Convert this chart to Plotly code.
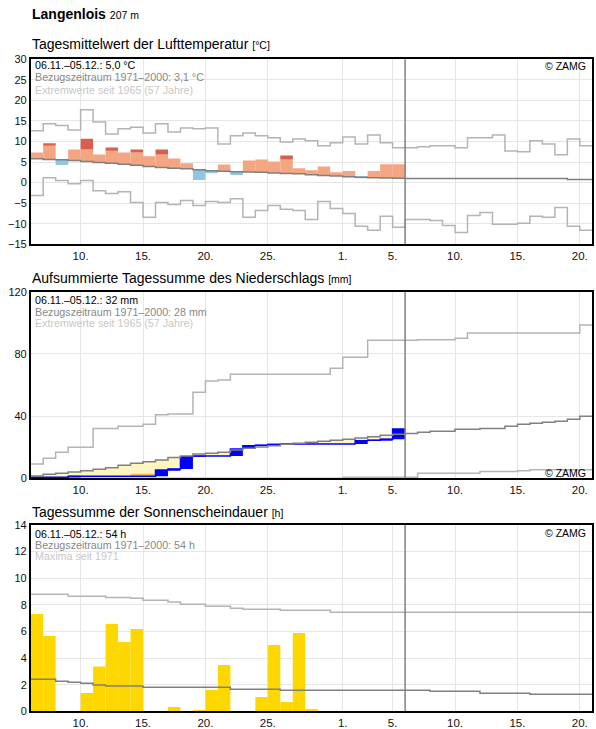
import plotly.graph_objects as go

W, H = 596, 729

# ---------------- data ----------------
# x axis: day number counted from 1 Nov (Dec d -> 30 + d); each day spans [d, d+1)
first_day = 6            # 6 Nov
n_days = 45              # 6 Nov .. 20 Dec
n_obs = 30               # 6 Nov .. 5 Dec observed
today = 36               # 6 Dec
x_tickvals = [10, 15, 20, 25, 31, 35, 40, 45, 50]
x_ticktext = ["10.", "15.", "20.", "25.", "1.", "5.", "10.", "15.", "20."]

# Temperature (°C)
temp_clim = [5.8, 5.6, 5.55, 5.4, 5.15, 4.9, 4.7, 4.45, 4.2, 3.95,
             3.7, 3.5, 3.4, 3.15, 2.9, 2.75, 2.65, 2.6, 2.5, 2.35,
             2.25, 2.15, 1.9, 1.75, 1.6, 1.45, 1.3, 1.2, 1.1, 1.05,
             1.0, 1.0, 1.0, 1.0, 1.0, 1.0, 1.0, 1.0, 1.0, 1.0,
             1.0, 1.0, 1.0, 0.75, 0.75]
temp_max = [12.65, 14.3, 13.9, 12.8, 17.7, 14.75, 11.85, 13.1, 13.5, 12.1,
            14.3, 12.3, 13.3, 13.1, 13.3, 9.4, 11.4, 12.1, 11.4, 10.9,
            9.9, 10.6, 10.2, 8.95, 9.7, 11.1, 9.4, 11.6, 9.7, 8.5,
            8.5, 8.7, 8.95, 8.95, 8.5, 10.9, 10.9, 11.6, 7.7, 7.5,
            10.2, 9.4, 6.8, 10.6, 8.95]
temp_min = [-3.15, 1.2, 0.5, -0.25, 0.5, -1.95, -2.65, -2.2, -4.85, -8.45,
            -4.85, -5.3, -4.35, -5.55, -4.6, -4.85, -3.9, -8.45, -6.8, -5.55,
            -6.5, -6.8, -8.95, -4.6, -6.3, -7.5, -10.6, -11.6, -8.2, -10.85,
            -8.95, -8.95, -9.2, -10.4, -12.1, -8.0, -7.25, -10.15, -10.15, -9.9,
            -8.2, -8.45, -6.05, -10.6, -11.6]
temp_obs = [7.3, 9.0, 4.3, 8.05, 8.05, 6.85, 7.75, 7.3, 7.3, 6.4,
            6.85, 5.9, 4.7, 0.65, 2.3, 4.4, 1.85, 5.4, 5.6, 5.15,
            5.6, 3.5, 3.0, 3.95, 2.5, 2.8, 1.2, 2.8, 4.5, 4.5]
temp_peak = [None, 9.6, None, None, 10.7, None, 8.55, None, 8.05, None,
             8.05, None, None, None, None, None, None, None, None, None,
             6.6, None, None, None, None, None, None, None, None, None]

# Precipitation (mm)
precip_daily = [0.6, 0.0, 0.0, 0.7, 0.0, 0.0, 0.0, 0.0, 0.0, 0.0,
                4.1, 0.6, 7.9, 0.4, 0.0, 0.0, 4.5, 2.2, 0.2, 0.5,
                0.3, 0.0, 0.0, 0.0, 0.0, 0.0, 2.2, 0.2, 0.7, 6.6]
precip_clim_cum = [1.5, 2.55, 3.2, 4.05, 4.9, 5.8, 6.8, 8.4, 9.6, 10.7,
                   11.8, 13.3, 14.3, 15.6, 16.1, 16.7, 18.2, 19.3, 20.1, 21.0,
                   21.9, 22.5, 23.2, 23.8, 24.4, 25.1, 25.9, 26.8, 27.7, 28.3,
                   28.8, 29.6, 30.2, 30.2, 31.5, 31.5, 32.1, 32.1, 33.4, 34.7,
                   35.4, 36.0, 36.7, 37.9, 39.9]
precip_max_cum = [9.2, 12.9, 16.7, 19.9, 19.9, 32.1, 32.1, 33.4, 33.4, 34.7,
                  40.9, 41.4, 41.4, 55.3, 62.6, 63.2, 66.9, 66.9, 66.9, 66.9,
                  66.9, 66.9, 66.9, 66.9, 70.7, 77.8, 77.8, 88.7, 88.7, 88.7,
                  88.7, 89.1, 89.1, 89.1, 90.0, 93.4, 93.4, 93.4, 93.4, 93.4,
                  93.4, 93.4, 93.4, 93.4, 98.6]
precip_min_cum = [0.0] * 25 + [0.6, 0.6, 0.6, 0.6, 0.6, 0.6,
                               3.2, 3.2, 3.2, 3.2, 3.2, 4.3, 4.3, 4.3, 4.9,
                               5.5, 5.5, 5.5, 5.5, 5.5]
precip_orange_days = [14, 15]
precip_orange_lo = [1.6, 1.6]
precip_orange_hi = [3.0, 3.0]

# Sunshine duration (h)
sun_obs = [7.31, 5.66, 0, 0, 1.38, 3.36, 6.56, 5.21, 6.19, 0,
           0, 0.33, 0, 0.1, 1.6, 3.48, 0, 0, 1.08, 4.98,
           0.7, 5.89, 0.18, 0, 0, 0, 0, 0, 0, 0]
sun_clim = [2.40, 2.40, 2.25, 2.18, 2.10, 1.98, 1.90, 1.90, 1.90, 1.80,
            1.80, 1.80, 1.80, 1.80, 1.80, 1.80, 1.65, 1.65, 1.65, 1.65,
            1.58, 1.58, 1.58, 1.58, 1.58, 1.58, 1.58, 1.58, 1.58, 1.58,
            1.58, 1.58, 1.50, 1.50, 1.50, 1.50, 1.35, 1.35, 1.35, 1.35,
            1.28, 1.28, 1.28, 1.28, 1.28]
sun_max = [8.79, 8.79, 8.79, 8.64, 8.64, 8.64, 8.56, 8.56, 8.49, 8.34,
           8.34, 8.21, 8.04, 8.04, 7.89, 7.89, 7.74, 7.66, 7.66, 7.66,
           7.59, 7.59, 7.59, 7.59] + [7.44] * 21

# ---------------- styling ----------------
FONT = "Liberation Sans, Arial, Helvetica, sans-serif"
C_SALMON = "#F4A582"
C_DARKRED = "#D6604D"
C_LBLUE = "#92C5DE"
C_CLIM = "#808080"
C_EXT = "#b4b4b4"
C_YELLOW = "#FFF5BF"
C_ORANGE = "#F7B64E"
C_BLUE = "#0000FF"
C_GOLD = "#FFD700"
GRID = "#e6e6e6"

all_x = list(range(first_day, first_day + n_days))
obs_x = all_x[:n_obs]
mid = lambda xs: [x + 0.5 for x in xs]


def step(vals, start=first_day):
    xs = list(range(start, start + len(vals) + 1))
    return xs, list(vals) + [vals[-1]]


fig = go.Figure()


def add_bar(xs, base, height, color, ax):
    fig.add_trace(go.Bar(x=mid(xs), y=height, base=base, width=1.0,
                         marker=dict(color=color, line=dict(width=0)),
                         xaxis="x" + ax, yaxis="y" + ax, hoverinfo="skip"))


def add_step(vals, color, width, ax, start=first_day):
    xs, ys = step(vals, start)
    fig.add_trace(go.Scatter(x=xs, y=ys, mode="lines", line_shape="hv",
                             line=dict(color=color, width=width),
                             xaxis="x" + ax, yaxis="y" + ax, hoverinfo="skip"))


# ----- panel 1: temperature -----
clim_o = temp_clim[:n_obs]
warm_h = [o - c if o > c else None for o, c in zip(temp_obs, clim_o)]
cold_b = [o if o < c else None for o, c in zip(temp_obs, clim_o)]
cold_h = [c - o if o < c else None for o, c in zip(temp_obs, clim_o)]
peak_h = [p - o if p is not None else None for p, o in zip(temp_peak, temp_obs)]
add_bar(obs_x, clim_o, warm_h, C_SALMON, "")
add_bar(obs_x, temp_obs, peak_h, C_DARKRED, "")
add_bar(obs_x, cold_b, cold_h, C_LBLUE, "")
add_step(temp_max, C_EXT, 1.5, "")
add_step(temp_min, C_EXT, 1.5, "")
add_step(temp_clim, C_CLIM, 1.5, "")

# ----- panel 2: precipitation -----
cum = []
s = 0.0
for v in precip_daily:
    s += v
    cum.append(round(s, 2))
prev = [0.0] + cum[:-1]
pc_o = precip_clim_cum[:n_obs]
yel_b = [c if c < m else None for c, m in zip(cum, pc_o)]
yel_h = [m - c if c < m else None for c, m in zip(cum, pc_o)]
add_bar(obs_x, yel_b, yel_h, C_YELLOW, "2")
add_bar(precip_orange_days, precip_orange_lo,
        [h - l for h, l in zip(precip_orange_hi, precip_orange_lo)], C_ORANGE, "2")
rain_b = [p if d > 0 else None for p, d in zip(prev, precip_daily)]
rain_h = [d if d > 0 else None for d in precip_daily]
add_bar(obs_x, rain_b, rain_h, C_BLUE, "2")
add_step(precip_max_cum, C_EXT, 1.5, "2")
add_step(precip_min_cum, C_EXT, 1.5, "2")
add_step(cum, C_BLUE, 1.5, "2")
add_step(precip_clim_cum, C_CLIM, 1.5, "2")

# ----- panel 3: sunshine -----
add_bar(obs_x, [0] * n_obs, sun_obs, C_GOLD, "3")
add_step(sun_max, C_EXT, 1.5, "3")
add_step(sun_clim, C_CLIM, 1.5, "3")

# ---------------- layout ----------------
px = lambda x: x / W
py = lambda y: 1 - y / H

x_dom = [px(30.7), px(592.3)]
panels = {
    "": dict(top=59.3, bot=244.3, rng=[-15, 30], ticks=list(range(-15, 31, 5))),
    "2": dict(top=291.7, bot=478.3, rng=[0, 120], ticks=[0, 40, 80, 120]),
    "3": dict(top=525, bot=711.3, rng=[0, 14], ticks=list(range(0, 15, 2))),
}

layout = dict(width=W, height=H, margin=dict(l=0, r=0, t=0, b=0),
              paper_bgcolor="white", plot_bgcolor="white", showlegend=False,
              barmode="overlay", font=dict(family=FONT, color="#000"))
for ax, p in panels.items():
    layout["xaxis" + ax] = dict(
        domain=x_dom, anchor="y" + ax, range=[first_day, first_day + n_days],
        tickmode="array", tickvals=x_tickvals, ticktext=x_ticktext,
        showgrid=True, gridcolor=GRID, gridwidth=1, zeroline=False,
        showline=True, mirror=True, linecolor="black", linewidth=1.5,
        ticks="", tickfont=dict(size=11.5, color="#111"), automargin=False,
        fixedrange=True)
    layout["yaxis" + ax] = dict(
        domain=[py(p["bot"]), py(p["top"])], anchor="x" + ax, range=p["rng"],
        tickmode="array", tickvals=p["ticks"],
        showgrid=True, gridcolor=GRID, gridwidth=1, zeroline=False,
        showline=True, mirror=True, linecolor="black", linewidth=1.5,
        ticks="", tickfont=dict(size=11, color="#111"), automargin=False,
        fixedrange=True)
fig.update_layout(**layout)

# today line in each panel
for ax in ["", "2", "3"]:
    fig.add_shape(type="line", x0=today, x1=today, y0=0, y1=1,
                  xref="x" + ax, yref=("y" + ax + " domain") if ax else "y domain",
                  line=dict(color="#808080", width=1.5))


def text(x, y, s, size, color="#000", xanchor="left"):
    fig.add_annotation(x=px(x), y=py(y), xref="paper", yref="paper", text=s,
                       showarrow=False, xanchor=xanchor, yanchor="middle",
                       font=dict(size=size, color=color, family=FONT))


text(30, 14, "<b>Langenlois</b> <span style='font-size:10.5px'>207 m</span>", 14)
text(30, 44.5, "Tagesmittelwert der Lufttemperatur <span style='font-size:10.5px'>[°C]</span>", 14)
text(30, 277.5, "Aufsummierte Tagessumme des Niederschlags <span style='font-size:10.5px'>[mm]</span>", 14)
text(30, 511.7, "Tagessumme der Sonnenscheindauer <span style='font-size:10.5px'>[h]</span>", 14)

info = [
    (65, 77.5, 89.7, "06.11.–05.12.: 5,0 °C", "Bezugszeitraum 1971–2000: 3,1 °C",
     "Extremwerte seit 1965 (57 Jahre)"),
    (300, 311.7, 322.7, "06.11.–05.12.: 32 mm", "Bezugszeitraum 1971–2000: 28 mm",
     "Extremwerte seit 1965 (57 Jahre)"),
    (534.2, 545.2, 556.3, "06.11.–05.12.: 54 h", "Bezugszeitraum 1971–2000: 54 h",
     "Maxima seit 1971"),
]
for y1, y2, y3, t1, t2, t3 in info:
    text(33, y1, t1, 10.7, "#000")
    text(33, y2, t2, 10.7, "#888888")
    text(33, y3, t3, 10.7, "#c8c8c8")

for y in [66, 472.7, 533.3]:
    text(588, y, "© ZAMG", 10.5, "#000", xanchor="right")

fig.write_html("out.html")
